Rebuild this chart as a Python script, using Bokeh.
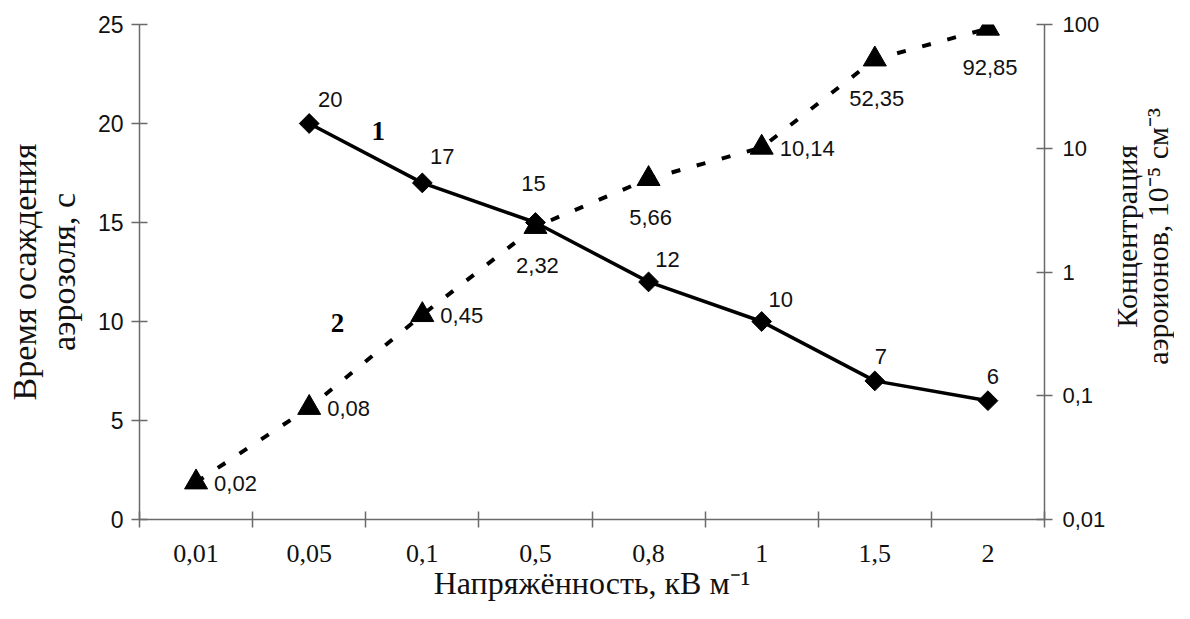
import numpy as np
from bokeh.plotting import figure
from bokeh.layouts import row
from bokeh.models import (Range1d, LogAxis, FixedTicker, CustomJSTickFormatter,
                          Label, LogScale, ColumnDataSource)
from bokeh.embed import file_html
from bokeh.resources import INLINE
from bokeh.core.properties import value

# ---- data ----
categories = ["0,01", "0,05", "0,1", "0,5", "0,8", "1", "1,5", "2"]
time_cats = ["0,05", "0,1", "0,5", "0,8", "1", "1,5", "2"]
time_values = [20, 17, 15, 12, 10, 7, 6]
time_labels = ["20", "17", "15", "12", "10", "7", "6"]
conc_cats = ["0,01", "0,05", "0,1", "0,5", "0,8", "1", "1,5", "2"]
conc_values = [0.02, 0.08, 0.45, 2.32, 5.66, 10.14, 52.35, 92.85]
conc_labels = ["0,02", "0,08", "0,45", "2,32", "5,66", "10,14", "52,35", "92,85"]
left_ticks = [0, 5, 10, 15, 20, 25]
right_ticks = [0.01, 0.1, 1, 10, 100]
right_title = ["Концентрация", "аэроионов, 10⁻⁵ см⁻³"]

# ---- label placement (style) ----
time_dx = [21, 20, -2, 19, 19, 6, 5]
time_dy = [-24, -26, -39, -22, -22, -24, -24]
conc_side = ["r", "r", "r", "b", "b", "r", "b", "b"]

pos = {c: i + 0.5 for i, c in enumerate(categories)}
time_x = [pos[c] for c in time_cats]
conc_x = [pos[c] for c in conc_cats]

W, H = 1174, 603
WM = 1108          # main figure width
WS = W - WM        # side (right title) width

p = figure(width=WM, height=H, output_backend="svg", toolbar_location=None,
           x_range=Range1d(0, len(categories)), y_range=Range1d(0, 25),
           min_border_left=139, min_border_right=WM - 1047, min_border_top=24,
           min_border_bottom=H - 520, background_fill_color="white",
           border_fill_color="white", outline_line_color=None)
p.grid.visible = False

p.extra_y_ranges = {"conc": Range1d(0.01, 100)}
p.extra_y_scales = {"conc": LogScale()}

axis_col = "#6a6a6a"
title_font = "Liberation Serif"

# x axis
xa = p.xaxis[0]
xa.ticker = FixedTicker(ticks=[i + 0.5 for i in range(len(categories))],
                        minor_ticks=list(range(len(categories) + 1)))
xa.formatter = CustomJSTickFormatter(args=dict(cats=categories),
                                     code="return cats[Math.floor(tick)];")
xa.major_tick_in = 0
xa.major_tick_out = 0
xa.minor_tick_in = 8
xa.minor_tick_out = 8
xa.minor_tick_line_color = axis_col
xa.minor_tick_line_width = 1.5
xa.axis_line_color = axis_col
xa.axis_line_width = 1.5
xa.major_label_text_font = "Liberation Serif"
xa.major_label_text_font_size = "26px"
xa.major_label_text_color = "#111111"
xa.major_label_standoff = 17
xa.axis_label = "Напряжённость, кВ м⁻¹"
xa.axis_label_text_font = title_font
xa.axis_label_text_font_size = "32px"
xa.axis_label_text_font_style = "normal"
xa.axis_label_text_color = "#111111"
xa.axis_label_standoff = 0

# left axis
ya = p.yaxis[0]
ya.ticker = FixedTicker(ticks=left_ticks)
ya.minor_tick_line_color = None
ya.major_tick_in = 8
ya.major_tick_out = 8
ya.major_tick_line_color = axis_col
ya.major_tick_line_width = 1.5
ya.axis_line_color = axis_col
ya.axis_line_width = 1.5
ya.major_label_text_font = "Liberation Sans"
ya.major_label_text_font_size = "23px"
ya.major_label_text_color = "#111111"
ya.major_label_standoff = 8
ya.axis_label = "Время осаждения\nаэрозоля, с"
ya.axis_label_text_font = title_font
ya.axis_label_text_font_size = "34px"
ya.axis_label_text_font_style = "normal"
ya.axis_label_text_color = "#111111"
ya.axis_label_text_align = "center"
ya.axis_label_text_line_height = 1.05
ya.axis_label_standoff = 13

# right log axis
ra = LogAxis(y_range_name="conc", ticker=FixedTicker(ticks=right_ticks),
             formatter=CustomJSTickFormatter(code="return String(tick).replace('.', ',');"))
ra.minor_tick_line_color = None
ra.major_tick_in = 8
ra.major_tick_out = 8
ra.major_tick_line_color = axis_col
ra.major_tick_line_width = 1.5
ra.axis_line_color = axis_col
ra.axis_line_width = 1.5
ra.major_label_text_font = "Liberation Sans"
ra.major_label_text_font_size = "22px"
ra.major_label_text_color = "#111111"
ra.major_label_standoff = 10
p.add_layout(ra, "right")

# series 1
p.line(time_x, time_values, line_color="black", line_width=3.5)
p.scatter(time_x, time_values, marker="square", angle=np.pi / 4, size=14,
          fill_color="black", line_color="black")
src1 = ColumnDataSource(dict(x=time_x, y=time_values, t=time_labels, dx=time_dx, dy=time_dy))
p.text(x="x", y="y", text="t", x_offset="dx", y_offset="dy", source=src1,
       text_font=value("Liberation Sans"), text_font_size=value("22px"),
       text_align="center", text_baseline="middle", text_color="#111111")

# series 2
p.line(conc_x, conc_values, y_range_name="conc", line_color="black",
       line_width=4, line_dash="9 17")
p.scatter(conc_x, conc_values, y_range_name="conc", marker="triangle", size=23,
          fill_color="black", line_color="black")
r_idx = [i for i, s in enumerate(conc_side) if s == "r"]
b_idx = [i for i, s in enumerate(conc_side) if s == "b"]
src_r = ColumnDataSource(dict(x=[conc_x[i] for i in r_idx], y=[conc_values[i] for i in r_idx],
                              t=[conc_labels[i] for i in r_idx]))
src_b = ColumnDataSource(dict(x=[conc_x[i] for i in b_idx], y=[conc_values[i] for i in b_idx],
                              t=[conc_labels[i] for i in b_idx]))
p.text(x="x", y="y", text="t", source=src_r, y_range_name="conc", x_offset=18, y_offset=1,
       text_font=value("Liberation Sans"), text_font_size=value("22px"),
       text_align="left", text_baseline="middle", text_color="#111111")
p.text(x="x", y="y", text="t", source=src_b, y_range_name="conc", x_offset=2, y_offset=39,
       text_font=value("Liberation Sans"), text_font_size=value("22px"),
       text_align="center", text_baseline="middle", text_color="#111111")

# series numbers
p.add_layout(Label(x=2.11, y=19.6, text="1", text_font="Liberation Serif", text_font_size="27px",
                   text_font_style="bold", text_align="center", text_baseline="middle",
                   text_color="black"))
p.add_layout(Label(x=1.75, y=9.9, text="2", text_font="Liberation Serif", text_font_size="27px",
                   text_font_style="bold", text_align="center", text_baseline="middle",
                   text_color="black"))

# right-hand title panel (reads bottom-to-top, as in the original)
side = figure(width=WS, height=H, output_backend="svg", toolbar_location=None,
              x_range=Range1d(0, WS), y_range=Range1d(H, 0),
              min_border_left=0, min_border_right=0, min_border_top=0, min_border_bottom=0,
              x_axis_location=None, y_axis_location=None, outline_line_color=None,
              background_fill_color="white", border_fill_color="white")
side.grid.visible = False
side.text(x=[1126 - WM, 1157 - WM], y=[258, 258], text=right_title, angle=np.pi / 2,
          text_font=value(title_font), text_font_size=value("30px"),
          text_align="center", text_baseline="middle", text_color="#111111")

layout = row(p, side, spacing=0)
open("out.html", "w").write(file_html(layout, INLINE))
